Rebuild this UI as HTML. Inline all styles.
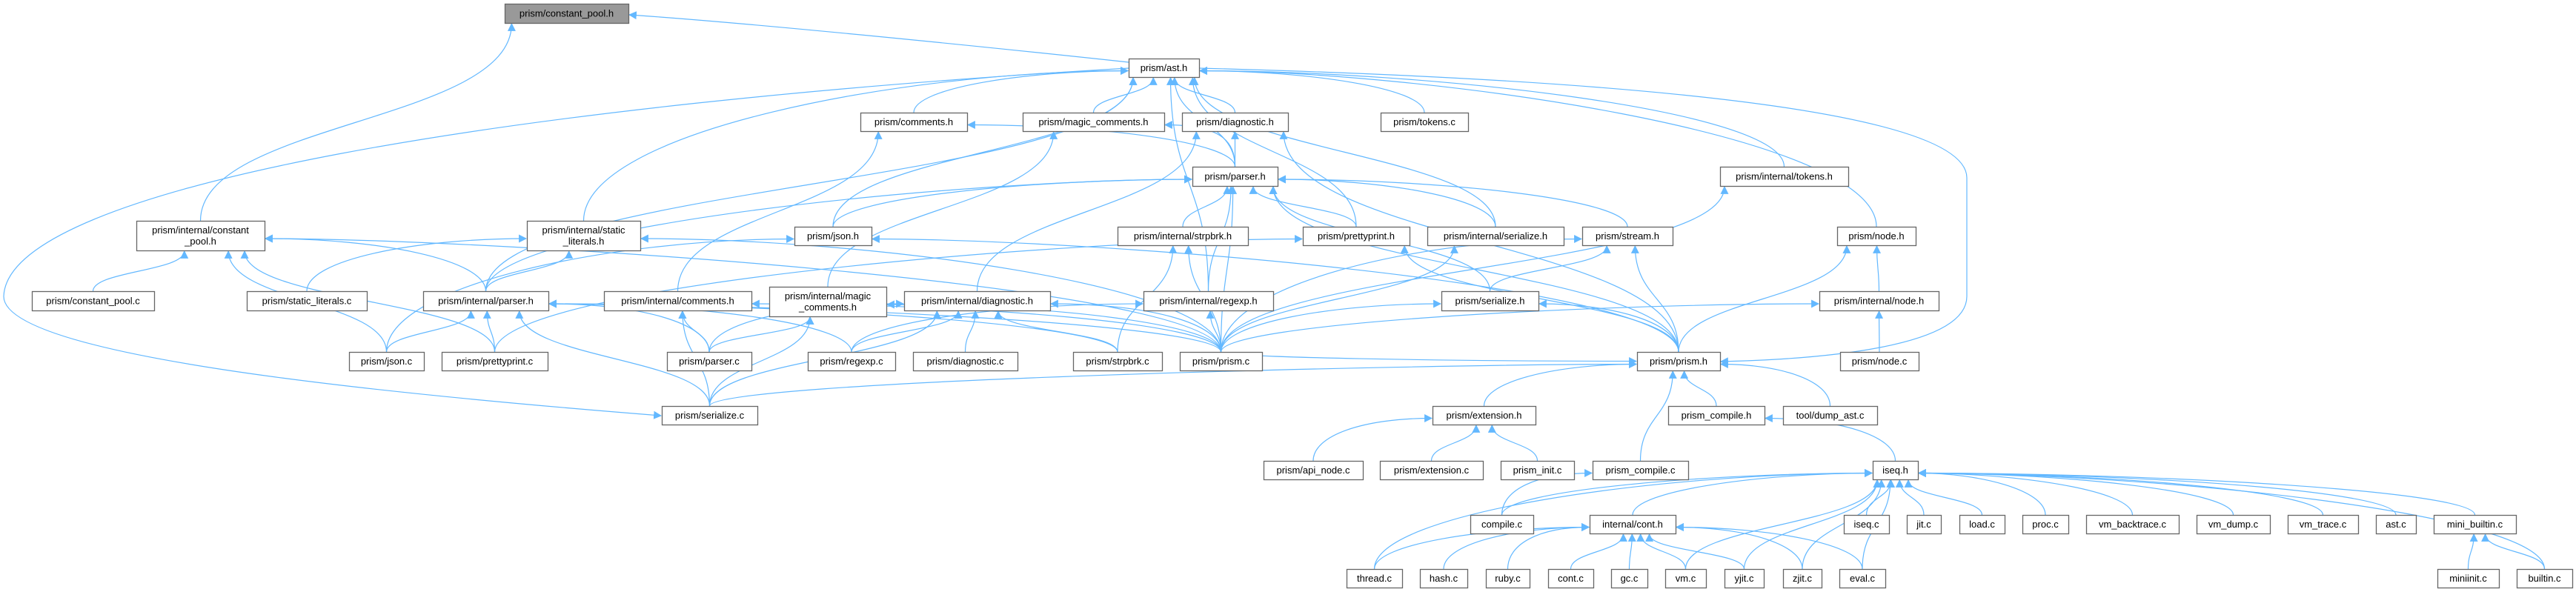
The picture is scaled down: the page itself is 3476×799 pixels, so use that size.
<!DOCTYPE html>
<html><head><meta charset="utf-8"><style>
html,body{margin:0;padding:0;background:#fff;width:3476px;height:799px;overflow:hidden}
svg{display:block}
text{font-family:"Liberation Sans","DejaVu Sans",sans-serif;font-size:13px;fill:#000}
</style></head><body>
<svg id="g" width="3476" height="799" viewBox="0 0 3476 799" xmlns="http://www.w3.org/2000/svg">
<defs><marker id="a" viewBox="0 0 10 10" refX="9" refY="5" markerWidth="11" markerHeight="11" markerUnits="userSpaceOnUse" orient="auto"><path d="M0,0L10,5L0,10z" fill="#63b8ff"/></marker></defs>
<g id="edges" fill="none" stroke="#63b8ff" stroke-width="1.2"></g>
<g id="nodes"></g>
</svg>
<script>
var N={
cp_h:[681,848,5,31,["prism/constant_pool.h"],1],
ast:[1523,1618,79,104,["prism/ast.h"]],
comments:[1161,1305,152,177,["prism/comments.h"]],
magic:[1380,1571,152,177,["prism/magic_comments.h"]],
diag:[1595,1738,152,177,["prism/diagnostic.h"]],
tokens_c:[1863,1981,152,177,["prism/tokens.c"]],
parser:[1609,1724,225,251,["prism/parser.h"]],
itokens:[2321,2494,225,251,["prism/internal/tokens.h"]],
icp:[184,357,298,338,["prism/internal/constant","_pool.h"]],
isl:[711,864,298,338,["prism/internal/static","_literals.h"]],
json_h:[1072,1176,306,331,["prism/json.h"]],
istrpbrk:[1508,1684,306,331,["prism/internal/strpbrk.h"]],
pp_h:[1758,1902,306,331,["prism/prettyprint.h"]],
iser:[1926,2110,306,331,["prism/internal/serialize.h"]],
stream:[2135,2257,306,331,["prism/stream.h"]],
node_h:[2479,2585,306,331,["prism/node.h"]],
cp_c:[43,208,393,419,["prism/constant_pool.c"]],
sl_c:[333,495,393,419,["prism/static_literals.c"]],
iparser:[571,740,393,419,["prism/internal/parser.h"]],
icomments:[815,1014,393,419,["prism/internal/comments.h"]],
imagic:[1038,1196,387,427,["prism/internal/magic","_comments.h"]],
idiag:[1220,1417,393,419,["prism/internal/diagnostic.h"]],
iregexp:[1543,1718,393,419,["prism/internal/regexp.h"]],
ser_h:[1945,2076,393,419,["prism/serialize.h"]],
inode:[2455,2616,393,419,["prism/internal/node.h"]],
json_c:[471,572,475,500,["prism/json.c"]],
pp_c:[596,739,475,500,["prism/prettyprint.c"]],
parser_c:[900,1014,475,500,["prism/parser.c"]],
regexp_c:[1090,1208,475,500,["prism/regexp.c"]],
diag_c:[1232,1373,475,500,["prism/diagnostic.c"]],
strpbrk_c:[1448,1568,475,500,["prism/strpbrk.c"]],
prism_c:[1592,1703,475,500,["prism/prism.c"]],
prism_h:[2209,2321,475,500,["prism/prism.h"]],
node_c:[2483,2589,475,500,["prism/node.c"]],
ser_c:[893,1022,548,573,["prism/serialize.c"]],
ext_h:[1933,2072,548,573,["prism/extension.h"]],
pc_h:[2251,2381,548,573,["prism_compile.h"]],
dump:[2406,2533,548,573,["tool/dump_ast.c"]],
api:[1705,1839,622,647,["prism/api_node.c"]],
ext_c:[1862,2001,622,647,["prism/extension.c"]],
init:[2025,2124,622,647,["prism_init.c"]],
pc_c:[2149,2278,622,647,["prism_compile.c"]],
iseq_h:[2527,2588,622,647,["iseq.h"]],
compile_c:[1984,2069,695,720,["compile.c"]],
cont_h:[2145,2261,695,720,["internal/cont.h"]],
iseq_c:[2488,2549,695,720,["iseq.c"]],
jit:[2573,2619,695,720,["jit.c"]],
load:[2644,2705,695,720,["load.c"]],
proc:[2729,2791,695,720,["proc.c"]],
vmbt:[2815,2940,695,720,["vm_backtrace.c"]],
vmdump:[2964,3063,695,720,["vm_dump.c"]],
vmtrace:[3087,3182,695,720,["vm_trace.c"]],
ast_c:[3206,3260,695,720,["ast.c"]],
minib:[3284,3395,695,720,["mini_builtin.c"]],
thread:[1817,1892,768,793,["thread.c"]],
hash:[1916,1980,768,793,["hash.c"]],
ruby:[2005,2064,768,793,["ruby.c"]],
cont_c:[2089,2150,768,793,["cont.c"]],
gc:[2174,2223,768,793,["gc.c"]],
vm:[2247,2302,768,793,["vm.c"]],
yjit:[2327,2380,768,793,["yjit.c"]],
zjit:[2406,2458,768,793,["zjit.c"]],
eval:[2482,2544,768,793,["eval.c"]],
miniinit:[3289,3372,768,793,["miniinit.c"]],
builtin:[3396,3471,768,793,["builtin.c"]]
};
var E={
cp_h:["ast","icp"],
ast:["comments","magic","diag","tokens_c","parser","itokens","node_h","json_h","isl","iparser","pp_h","iser","iregexp"],
comments:["parser","icomments"],
magic:["parser","imagic"],
diag:["parser","idiag","prism_h"],
parser:["json_h","istrpbrk","pp_h","iser","stream","prism_h","iparser","ser_h","iregexp","prism_c"],
json_h:["json_c","prism_h"],
icp:["cp_c","json_c","pp_c","iparser","prism_c"],
isl:["sl_c","iparser","prism_c"],
iparser:["json_c","pp_c","parser_c","regexp_c","strpbrk_c","prism_c","ser_c"],
icomments:["parser_c","ser_c","prism_c"],
imagic:["parser_c","ser_c","prism_c"],
idiag:["parser_c","regexp_c","diag_c","strpbrk_c","prism_c","ser_c"],
istrpbrk:["strpbrk_c","prism_c"],
iregexp:["regexp_c","prism_c"],
pp_h:["pp_c","prism_h"],
iser:["prism_c"],
stream:["ser_h","prism_c","prism_h"],
itokens:["prism_c"],
node_h:["inode","prism_h"],
inode:["node_c","prism_c"],
ser_h:["prism_c","prism_h"],
prism_h:["ser_c","ext_h","pc_h","pc_c","dump","prism_c"],
ext_h:["api","ext_c","init"],
pc_h:["iseq_h"],
pc_c:["compile_c"],
iseq_h:["compile_c","cont_h","iseq_c","jit","load","proc","vmbt","vmdump","vmtrace","ast_c","minib","builtin","thread","vm","yjit","zjit","eval"],
cont_h:["thread","hash","ruby","cont_c","gc","vm","yjit","zjit","eval"],
minib:["miniinit","builtin"]
};
var NS="http://www.w3.org/2000/svg",eg=document.getElementById("edges"),ng=document.getElementById("nodes");
function path(d){var p=document.createElementNS(NS,"path");p.setAttribute("d",d);p.setAttribute("marker-end","url(#a)");eg.appendChild(p);}
var special={"cp_h>ast":"M1523,84 C1300,60 1000,30 849,20"};
for(var par in E){E[par].forEach(function(ch){
 var P=N[par],C=N[ch];
 var key=par+">"+ch;
 if(special[key]){path(special[key]);return;}
 var cx=(C[0]+C[1])/2, cy=C[2];
 var px=(P[0]+P[1])/2, py=P[3]+1;
 var dx=cx-px, dy=cy-py;
 if(Math.abs(dx)>3.5*Math.abs(dy)){ // side attach
   py=(P[2]+P[3])/2+ (dy>0?4:0);
   px = dx<0?P[0]-1:P[1]+1;
   var pull=Math.min(Math.abs(dx)*0.4,300)*(dx<0?-1:1);
   path("M"+cx+","+cy+" C"+cx+","+(cy-(cy-py)*0.6)+" "+(px+pull)+","+py+" "+px+","+py);
 } else {
   px = px + Math.max(-(P[1]-P[0])/2+6, Math.min((P[1]-P[0])/2-6, dx*0.15));
   var m=(cy-py)*0.5;
   path("M"+cx+","+cy+" C"+cx+","+(cy-m)+" "+px+","+(py+m)+" "+px+","+py);
 }
});}
// long curves
path("M1523,92 C700,140 10,250 5,400 C5,480 500,530 892,561");
path("M1618,92 C2300,110 2654,160 2654,240 L2654,400 C2654,470 2450,485 2322,488");
for(var k in N){var n=N[k];
 var r=document.createElementNS(NS,"rect");
 r.setAttribute("x",n[0]+0.5);r.setAttribute("y",n[2]+0.5);r.setAttribute("width",n[1]-n[0]);r.setAttribute("height",n[3]-n[2]);
 r.setAttribute("fill",n[5]?"#999999":"#ffffff");r.setAttribute("stroke","#666666");r.setAttribute("stroke-width","1.3");ng.appendChild(r);
 var cx=(n[0]+n[1])/2, cy=(n[2]+n[3])/2, L=n[4];
 L.forEach(function(s,i){var t=document.createElementNS(NS,"text");
  t.setAttribute("x",cx);t.setAttribute("y",cy+4.5+(i-(L.length-1)/2)*15);t.setAttribute("text-anchor","middle");
  t.textContent=s;ng.appendChild(t);});
}
</script>
</body></html>
